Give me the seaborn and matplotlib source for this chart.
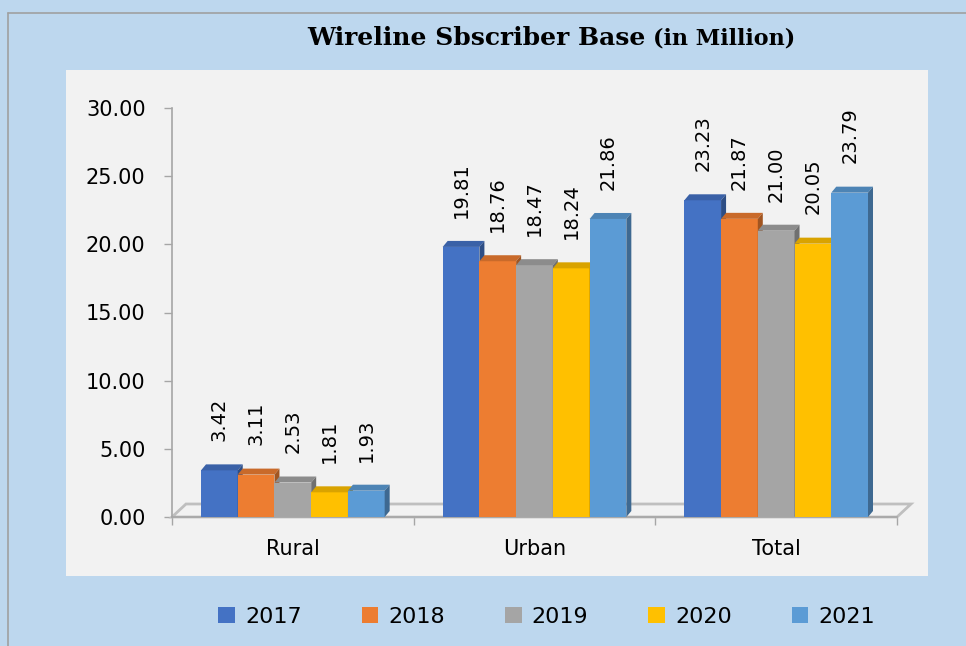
import numpy as np
import pandas as pd
import matplotlib
matplotlib.use("Agg")
import matplotlib.pyplot as plt
import matplotlib.colors as mcolors
from matplotlib.patches import Polygon, Rectangle
from matplotlib.lines import Line2D
import seaborn as sns

# data
categories = ["Rural", "Urban", "Total"]
years = ["2017", "2018", "2019", "2020", "2021"]
v2017 = [3.42, 19.81, 23.23]
v2018 = [3.11, 18.76, 21.87]
v2019 = [2.53, 18.47, 21.00]
v2020 = [1.81, 18.24, 20.05]
v2021 = [1.93, 21.86, 23.79]
yticks = [0, 5, 10, 15, 20, 25, 30]
colors = ["#4472C4", "#ED7D31", "#A5A5A5", "#FFC000", "#5B9BD5"]

W, H = 966, 646


def shade(c, f):
    r, g, b = mcolors.to_rgb(c)
    return (r * f, g * f, b * f)


def main():
    rows = []
    for yr, vals in zip(years, [v2017, v2018, v2019, v2020, v2021]):
        for cat, v in zip(categories, vals):
            rows.append({"category": cat, "year": yr, "value": v})
    df = pd.DataFrame(rows)

    sns.set_theme(style="white")
    plt.rcParams["font.family"] = ["DejaVu Sans"]
    plt.rcParams["text.color"] = "black"
    plt.rcParams["xtick.labelcolor"] = "black"
    plt.rcParams["ytick.labelcolor"] = "black"

    fig = plt.figure(figsize=(W / 100, H / 100), dpi=100)
    fig.patch.set_facecolor("#BDD7EE")

    # grey plot panel + outer frame
    fig.add_artist(Rectangle((66 / W, 1 - 576 / H), 862 / W, 506 / H,
                             transform=fig.transFigure, facecolor="#F2F2F2",
                             edgecolor="none", zorder=-5))
    fig.add_artist(Line2D([8 / W, 8 / W], [0, 1 - 13 / H], color="#A0A0A0", lw=1.2,
                          transform=fig.transFigure, zorder=-4))
    fig.add_artist(Line2D([8 / W, 1], [1 - 13 / H, 1 - 13 / H], color="#A0A0A0", lw=1.2,
                          transform=fig.transFigure, zorder=-4))

    ax = fig.add_axes([172 / W, 1 - 517 / H, 725 / W, 409 / H])
    ax.set_facecolor("none")
    sns.barplot(data=df, x="category", y="value", hue="year", palette=colors,
                width=0.76, saturation=1, errorbar=None, legend=False,
                edgecolor="none", linewidth=0, ax=ax)
    ax.set_xlim(-0.5, 2.5)
    ax.set_ylim(0, 30)

    # fake 3D: top and side faces on each bar
    pxx = ax.bbox.width / 3.0
    pxy = ax.bbox.height / 30.0
    dx, dy = 5 / pxx, 6 / pxy
    for i, cont in enumerate(ax.containers):
        col = colors[i]
        for p in cont.patches:
            x0, w, h = p.get_x(), p.get_width(), p.get_height()
            p.set_zorder(3 + i)
            ax.add_patch(Polygon([(x0, h), (x0 + w, h), (x0 + w + dx, h + dy), (x0 + dx, h + dy)],
                                 closed=True, facecolor=shade(col, 0.85), edgecolor="none",
                                 zorder=3 + i, clip_on=False))
            ax.add_patch(Polygon([(x0 + w, 0), (x0 + w + dx, dy), (x0 + w + dx, h + dy), (x0 + w, h)],
                                 closed=True, facecolor=shade(col, 0.68), edgecolor="none",
                                 zorder=3 + i, clip_on=False))
        ax.bar_label(cont, fmt="%.2f", rotation=90, padding=21, fontsize=14, zorder=10)

    # floor
    fdx, fdy = 14 / pxx, 13 / pxy
    ax.add_patch(Polygon([(-0.5, 0), (2.5, 0), (2.5 + fdx, fdy), (-0.5 + fdx, fdy)],
                         closed=True, facecolor="#F2F2F2", edgecolor="#BFBFBF", lw=2,
                         zorder=1, clip_on=False))

    # axes styling
    for s in ["top", "right"]:
        ax.spines[s].set_visible(False)
    for s in ["left", "bottom"]:
        ax.spines[s].set_color("#A6A6A6")
        ax.spines[s].set_linewidth(1.2)
    ax.set_yticks(yticks)
    ax.set_yticklabels([f"{v:.2f}" for v in yticks])
    ax.tick_params(axis="y", direction="out", length=6, width=1, color="#A6A6A6",
                   labelsize=15, pad=13, left=True)
    ax.set_xticks(range(len(categories)))
    ax.set_xticklabels(categories)
    ax.set_xticks([-0.5, 0.5, 1.5, 2.5], minor=True)
    ax.tick_params(axis="x", which="major", length=0, labelsize=15, pad=16)
    ax.tick_params(axis="x", which="minor", direction="out", length=6, width=1,
                   color="#A6A6A6", bottom=True)
    ax.set_xlabel("")
    ax.set_ylabel("")

    # title in two sizes
    t1 = fig.text(0, 1 - 45 / H, "Wireline Sbscriber Base", fontfamily="DejaVu Serif",
                  fontweight="bold", fontsize=18, va="baseline", ha="left", color="black")
    t2 = fig.text(0, 1 - 45 / H, "(in Million)", fontfamily="DejaVu Serif",
                  fontweight="bold", fontsize=16, va="baseline", ha="left", color="black")
    r = fig.canvas.get_renderer()
    w1 = t1.get_window_extent(r).width
    w2 = t2.get_window_extent(r).width
    gap = 7
    start = 551 - (w1 + gap + w2) / 2
    t1.set_x(start / W)
    t2.set_x((start + w1 + gap) / W)

    # legend
    handles = [Rectangle((0, 0), 1, 1, facecolor=c, edgecolor="none") for c in colors]
    fig.legend(handles, years, loc="center", bbox_to_anchor=(0.566, 1 - 617 / H),
               ncol=5, frameon=False, fontsize=16, handlelength=0.75, handleheight=0.75,
               columnspacing=2.7, handletextpad=0.45)

    fig.savefig("out.png", dpi=100, facecolor=fig.get_facecolor())
    plt.close(fig)


if __name__ == "__main__":
    main()
